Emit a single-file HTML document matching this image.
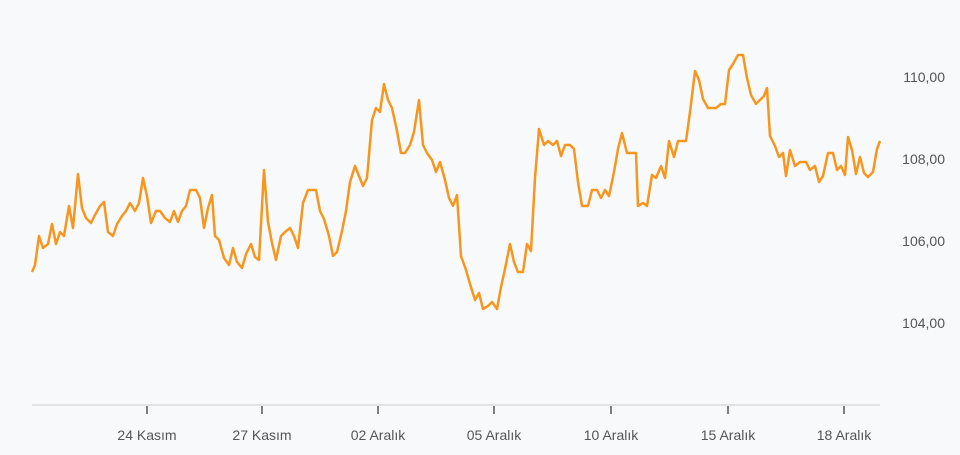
<!DOCTYPE html>
<html><head><meta charset="utf-8"><style>
html,body{margin:0;padding:0;background:#f8f9fa;}
svg{display:block}
text{font-family:"Liberation Sans",sans-serif;font-size:14px;fill:#555}
</style></head><body>
<svg width="960" height="455" viewBox="0 0 960 455">
<rect width="960" height="455" fill="#f8f9fa"/>
<line x1="32" y1="405" x2="880" y2="405" stroke="#dcdcdc" stroke-width="1.5"/>
<g stroke="#555" stroke-width="1.5">
<line x1="147" y1="406" x2="147" y2="414"/><line x1="262" y1="406" x2="262" y2="414"/>
<line x1="378" y1="406" x2="378" y2="414"/><line x1="494" y1="406" x2="494" y2="414"/>
<line x1="611" y1="406" x2="611" y2="414"/><line x1="728" y1="406" x2="728" y2="414"/>
<line x1="844" y1="406" x2="844" y2="414"/>
</g>
<g text-anchor="middle">
<text x="147" y="440">24 Kasım</text><text x="262" y="440">27 Kasım</text>
<text x="378" y="440">02 Aralık</text><text x="494" y="440">05 Aralık</text>
<text x="611" y="440">10 Aralık</text><text x="728" y="440">15 Aralık</text>
<text x="844" y="440">18 Aralık</text>
</g>
<g text-anchor="end">
<text x="945" y="82">110,00</text><text x="945" y="164">108,00</text>
<text x="945" y="246">106,00</text><text x="945" y="328">104,00</text>
</g>
<polyline fill="none" stroke="#f7961e" stroke-width="2.5" stroke-linejoin="round" points="32,272 35,265 39,236 43,248 48,244 52,224 56,244 60,232 64,236 69,206 73,228 78,174 82,208 86,218 91,223 95,215 100,206 104,202 108,232 113,236 117,224 122,216 126,211 130,203 135,211 139,203 143,178 147,196 151,223 156,211 160,211 165,218 170,222 174,211 178,222 182,211 186,206 190,190 196,190 200,198 204,228 208,208 212,195 215,236 219,240 224,258 229,265 233,248 237,262 242,268 246,254 251,244 255,257 259,260 264,170 268,222 272,243 276,260 281,236 285,232 290,228 294,236 298,248 303,203 308,190 316,190 320,211 324,219 329,236 333,256 337,252 342,231 346,211 350,182 355,166 359,176 363,186 367,178 372,120 376,108 380,112 384,84 388,100 392,108 397,131 401,153 405,153 410,145 414,132 419,100 423,145 427,153 432,160 436,172 440,162 445,180 449,198 453,206 457,195 461,256 466,270 470,284 475,300 479,293 483,309 488,306 492,302 497,309 501,287 505,269 510,244 514,262 518,272 523,272 527,244 531,251 535,178 539,129 544,145 548,141 553,145 557,141 561,156 565,145 570,145 574,149 578,182 582,206 588,206 592,190 597,190 601,198 605,190 609,196 614,172 618,149 622,133 627,153 632,153 636,153 638,206 643,203 647,206 652,175 656,178 661,166 665,178 669,141 674,157 678,141 686,141 690,112 695,71 699,80 703,99 708,108 716,108 721,104 725,104 729,70 733,64 738,55 743,55 747,78 751,95 756,104 760,100 764,96 767,88 770,136 775,146 779,157 783,153 786,176 790,150 795,166 800,162 806,162 810,170 815,166 819,182 823,176 828,153 833,153 837,170 841,166 845,175 848,137 852,150 856,174 860,157 864,173 868,177 873,172 877,149 880,141"/>
</svg>
</body></html>
